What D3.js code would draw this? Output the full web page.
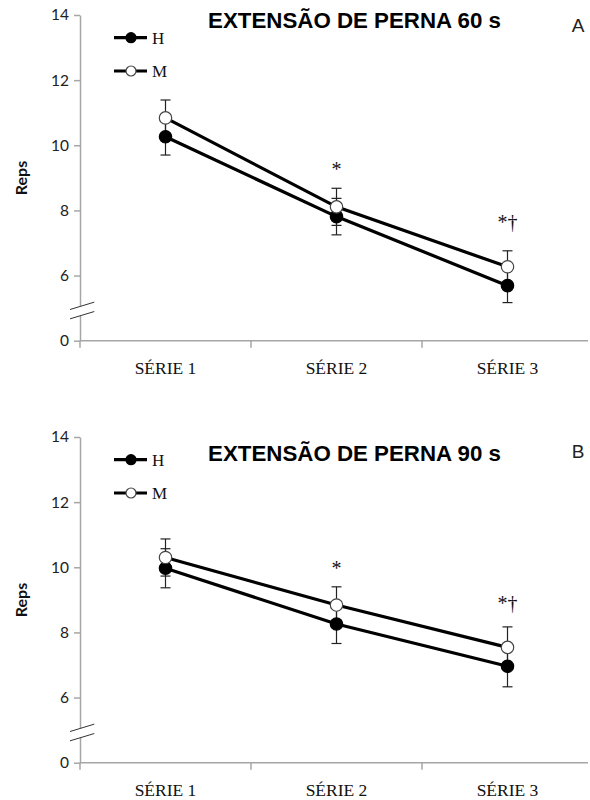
<!DOCTYPE html>
<html>
<head>
<meta charset="utf-8">
<script src="https://cdn.jsdelivr.net/npm/d3@7"></script>
<style>
  body { margin: 0; background: #fff; }
  svg { display: block; }
</style>
</head>
<body>
<svg id="chart" width="590" height="800"></svg>
<script>
// ---- data ----
const categories = ["SÉRIE 1", "SÉRIE 2", "SÉRIE 3"];
const seriesNames = ["H", "M"];
const yTickValues = [4, 6, 8, 10, 12, 14];        // 4 is drawn as the broken-axis "0"
const yTickLabels = ["0", "6", "8", "10", "12", "14"];

const titlesA = "EXTENSÃO DE PERNA 60 s";
const titlesB = "EXTENSÃO DE PERNA 90 s";

// Panel A (60 s)
const hMeanA = [10.26, 7.81, 5.69];
const hSdA   = [0.56, 0.56, 0.52];
const mMeanA = [10.84, 8.11, 6.27];
const mSdA   = [0.55, 0.57, 0.49];
const marksA = ["", "*", "*†"];
const markValA = [null, 9.27, 7.65];

// Panel B (90 s)
const hMeanB = [9.97, 8.26, 6.96];
const hSdB   = [0.60, 0.60, 0.63];
const mMeanB = [10.30, 8.84, 7.54];
const mSdB   = [0.57, 0.56, 0.63];
const marksB = ["", "*", "*†"];
const markValB = [null, 9.98, 8.90];

const svg = d3.select("#chart");

function drawPanel(offsetY, title, titleY, letter, letterY, hMean, hSd, mMean, mSd, marks, markVals) {
  const g = svg.append("g").attr("transform", `translate(0,${offsetY})`);
  const y = d3.scaleLinear().domain([4, 14]).range([340.7, 15]);
  const x = d3.scaleBand().domain(categories).range([80, 593]);
  const cx = c => x(c) + x.bandwidth() / 2;
  const axisColor = "#a6a6a6";

  // y axis
  const yAxis = d3.axisLeft(y).tickValues(yTickValues)
    .tickFormat((d, i) => yTickLabels[i]).tickSize(6).tickSizeOuter(0).tickPadding(5);
  const ya = g.append("g").attr("transform", "translate(80,0)").call(yAxis);
  ya.select(".domain").attr("stroke", axisColor).attr("stroke-width", 1.5);
  ya.selectAll(".tick line").attr("stroke", axisColor).attr("stroke-width", 1.5);
  ya.selectAll(".tick text").attr("fill", "#222").style("font-family", "Lato, 'Open Sans', sans-serif").style("font-size", "15.5px");

  // x axis
  const xa = g.append("g").attr("transform", "translate(0,340.7)");
  xa.append("line").attr("x1", 80).attr("x2", 588).attr("y1", 0).attr("y2", 0)
    .attr("stroke", axisColor).attr("stroke-width", 1.5);
  const bounds = [x.range()[0]].concat(categories.map(c => x(c) + x.bandwidth())).filter(v => v <= 588);
  xa.selectAll("line.tk").data(bounds).enter().append("line").attr("class", "tk")
    .attr("x1", d => d).attr("x2", d => d).attr("y1", 0).attr("y2", 7)
    .attr("stroke", axisColor).attr("stroke-width", 1.5);
  xa.selectAll("text").data(categories).enter().append("text")
    .attr("x", d => cx(d)).attr("y", 27).attr("dy", "0.35em")
    .attr("text-anchor", "middle").attr("fill", "#111")
    .style("font-family", "'Liberation Serif', 'Times New Roman', serif").style("font-size", "17.5px")
    .text(d => d);

  // axis break
  const yb = (y(4) + y(6)) / 2 + 6;
  g.append("polygon")
    .attr("points", `70,${yb - 4.6} 94.3,${yb - 12} 94.3,${yb - 2.6} 70,${yb + 4.7}`)
    .attr("fill", "#fff");
  [[-4.6, -12], [4.7, -2.6]].forEach(p => {
    g.append("line").attr("x1", 70).attr("y1", yb + p[0]).attr("x2", 94.3).attr("y2", yb + p[1])
      .attr("stroke", "#333").attr("stroke-width", 1);
  });

  // Reps label
  g.append("text").attr("transform", "translate(21,178) rotate(-90)")
    .attr("text-anchor", "middle").attr("dy", "0.35em")
    .style("font-family", "Lato, 'Open Sans', sans-serif").style("font-weight", "bold").style("font-size", "16px")
    .attr("fill", "#111").text("Reps");

  // title
  g.append("text").attr("x", 354.5).attr("y", titleY).attr("text-anchor", "middle")
    .style("font-family", "'Liberation Sans', Arial, sans-serif").style("font-weight", "bold").style("font-size", "22.3px")
    .attr("fill", "#000").text(title);
  g.append("text").attr("x", 578).attr("y", letterY).attr("text-anchor", "middle")
    .style("font-family", "'Liberation Sans', Arial, sans-serif").style("font-size", "19px")
    .attr("fill", "#222").text(letter);

  const series = [
    { name: "H", mean: hMean, sd: hSd, fill: "#000" },
    { name: "M", mean: mMean, sd: mSd, fill: "#fff" }
  ];

  // error bars
  series.forEach(s => {
    categories.forEach((c, i) => {
      const px = cx(c);
      const y1 = y(s.mean[i] - s.sd[i]), y2 = y(s.mean[i] + s.sd[i]);
      g.append("line").attr("x1", px).attr("x2", px).attr("y1", y1).attr("y2", y2)
        .attr("stroke", "#222").attr("stroke-width", 1.2);
      [y1, y2].forEach(yy => g.append("line").attr("x1", px - 5).attr("x2", px + 5)
        .attr("y1", yy).attr("y2", yy).attr("stroke", "#222").attr("stroke-width", 1.2));
    });
  });

  // lines
  const line = d3.line().x((d, i) => cx(categories[i])).y(d => y(d));
  series.forEach(s => {
    g.append("path").datum(s.mean).attr("d", line)
      .attr("fill", "none").attr("stroke", "#000").attr("stroke-width", 3.2);
  });
  // markers
  series.forEach(s => {
    g.selectAll(null).data(s.mean).enter().append("circle")
      .attr("cx", (d, i) => cx(categories[i])).attr("cy", d => y(d)).attr("r", 6.2)
      .attr("fill", s.fill).attr("stroke", s.name === "H" ? "#000" : "#444").attr("stroke-width", 1.2);
  });

  // significance marks
  categories.forEach((c, i) => {
    if (!marks[i]) return;
    g.append("text").attr("x", cx(c)).attr("y", y(markVals[i])).attr("dy", "0.35em")
      .attr("text-anchor", "middle")
      .style("font-family", "'Liberation Serif', 'Times New Roman', serif").style("font-size", "20px")
      .attr("fill", "#111").text(marks[i]);
  });

  // legend
  const legY = [37.7, 71];
  series.forEach((s, i) => {
    g.append("line").attr("x1", 114).attr("x2", 147).attr("y1", legY[i]).attr("y2", legY[i])
      .attr("stroke", "#000").attr("stroke-width", 3.2);
    g.append("circle").attr("cx", 131).attr("cy", legY[i]).attr("r", 5)
      .attr("fill", s.fill).attr("stroke", s.name === "H" ? "#000" : "#444").attr("stroke-width", 1.2);
    g.append("text").attr("x", 152).attr("y", legY[i]).attr("dy", "0.35em")
      .style("font-family", "'Liberation Serif', 'Times New Roman', serif").style("font-size", "17px")
      .attr("fill", "#111").text(seriesNames[i]);
  });
}

drawPanel(0, titlesA, 28.3, "A", 32, hMeanA, hSdA, mMeanA, mSdA, marksA, markValA);
drawPanel(422, titlesB, 38.7, "B", 36, hMeanB, hSdB, mMeanB, mSdB, marksB, markValB);
</script>
</body>
</html>
